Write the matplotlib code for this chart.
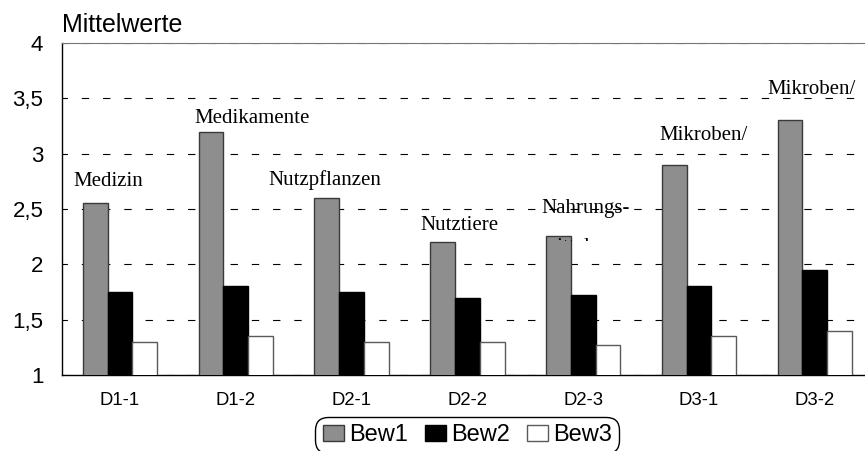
import matplotlib
matplotlib.use("Agg")
import matplotlib.pyplot as plt
import matplotlib.patches as mpatches
from matplotlib.transforms import Bbox
import numpy as np

categories = ["D1-1", "D1-2", "D2-1", "D2-2", "D2-3", "D3-1", "D3-2"]
bew1 = [2.55, 3.2, 2.6, 2.2, 2.26, 2.9, 3.3]
bew2 = [1.75, 1.8, 1.75, 1.7, 1.72, 1.8, 1.95]
bew3 = [1.3, 1.35, 1.3, 1.3, 1.27, 1.35, 1.4]
series_names = ["Bew1", "Bew2", "Bew3"]
y_ticks = [1, 1.5, 2, 2.5, 3, 3.5, 4]
y_tick_labels = ["1", "1,5", "2", "2,5", "3", "3,5", "4"]

# annotation labels above the groups (text, x in category units, y value)
notes = [
    ("Medizin", -0.10, 2.75),
    ("Medikamente", 1.14, 3.32),
    ("Nutzpflanzen", 1.77, 2.76),
    ("Nutztiere", 2.93, 2.355),
    ("Mikroben/", 5.04, 3.16),
    ("Mikroben/", 5.97, 3.58),
]

plt.rcParams["font.family"] = ["Liberation Sans", "DejaVu Sans"]
plt.rcParams["lines.scale_dashes"] = False

W, H = 865, 451
fig = plt.figure(figsize=(W / 100, H / 100), dpi=100)
ax = fig.add_axes([62 / W, 76 / H, (872.7 - 62) / W, 332 / H])

x = np.arange(len(categories))
bw = 0.214
ax.bar(x - bw, bew1, bw, color="#8e8e8e", edgecolor="#3a3a3a", linewidth=1.0, zorder=3)
ax.bar(x, bew2, bw, color="black", edgecolor="black", linewidth=1.0, zorder=3)
ax.bar(x + bw, bew3, bw, color="white", edgecolor="#5a5a5a", linewidth=1.0, zorder=3)

ax.set_xlim(-0.5, 6.5)
ax.set_ylim(1, 4)
ax.set_yticks(y_ticks)
ax.set_yticklabels(y_tick_labels, fontsize=16)
ax.set_xticks(x)
ax.set_xticklabels(categories, fontsize=13.3)
ax.tick_params(axis="y", length=0, pad=13.5)
ax.tick_params(axis="x", length=0, pad=12)

ax.yaxis.grid(True, color="black", linewidth=0.8, linestyle=(1.4, (5.3, 10.0)), zorder=1)
ax.set_axisbelow(True)
ax.spines["right"].set_visible(False)
ax.spines["top"].set_color("#777777")
ax.spines["top"].set_linewidth(0.8)
ax.spines["left"].set_linewidth(1.0)
ax.spines["bottom"].set_linewidth(1.0)

serif = ["Liberation Serif", "DejaVu Serif"]
for txt, xx, yy in notes:
    ax.text(xx, yy, txt, ha="center", va="center", fontsize=15, family=serif, zorder=4)

# "Nahrungs-" label, its second line is mostly cut off as in the source
ax.text(541.7, H - 213.3, "Nahrungs-", transform=None, ha="left", va="baseline",
        fontsize=15, family=serif, zorder=4)
t2 = ax.text(541.7, H - 252, "mittel", transform=None, ha="left", va="baseline",
             fontsize=15, family=serif, zorder=4, clip_on=True)
t2.set_clip_box(Bbox([[530, H - 240.5], [640, H - 234]]))

fig.text(62 / W, 1 - 31.7 / H, "Mittelwerte", ha="left", va="baseline", fontsize=18)

handles = [
    mpatches.Patch(facecolor="#8e8e8e", edgecolor="#3a3a3a", linewidth=1.0),
    mpatches.Patch(facecolor="black", edgecolor="black", linewidth=1.0),
    mpatches.Patch(facecolor="white", edgecolor="#5a5a5a", linewidth=1.0),
]
leg = fig.legend(handles, series_names, loc="upper center", ncol=3,
                 bbox_to_anchor=(467.4 / W, 1 - 417 / H), bbox_transform=fig.transFigure,
                 fontsize=17, handlelength=0.92, handleheight=0.68, handletextpad=0.21,
                 columnspacing=0.7, borderpad=0.3, borderaxespad=0, frameon=True,
                 fancybox=True, edgecolor="black", framealpha=1)
leg.get_frame().set_linewidth(1.0)
leg.get_frame().set_boxstyle("round", pad=0, rounding_size=0.55)

fig.savefig("out.png", dpi=100)
